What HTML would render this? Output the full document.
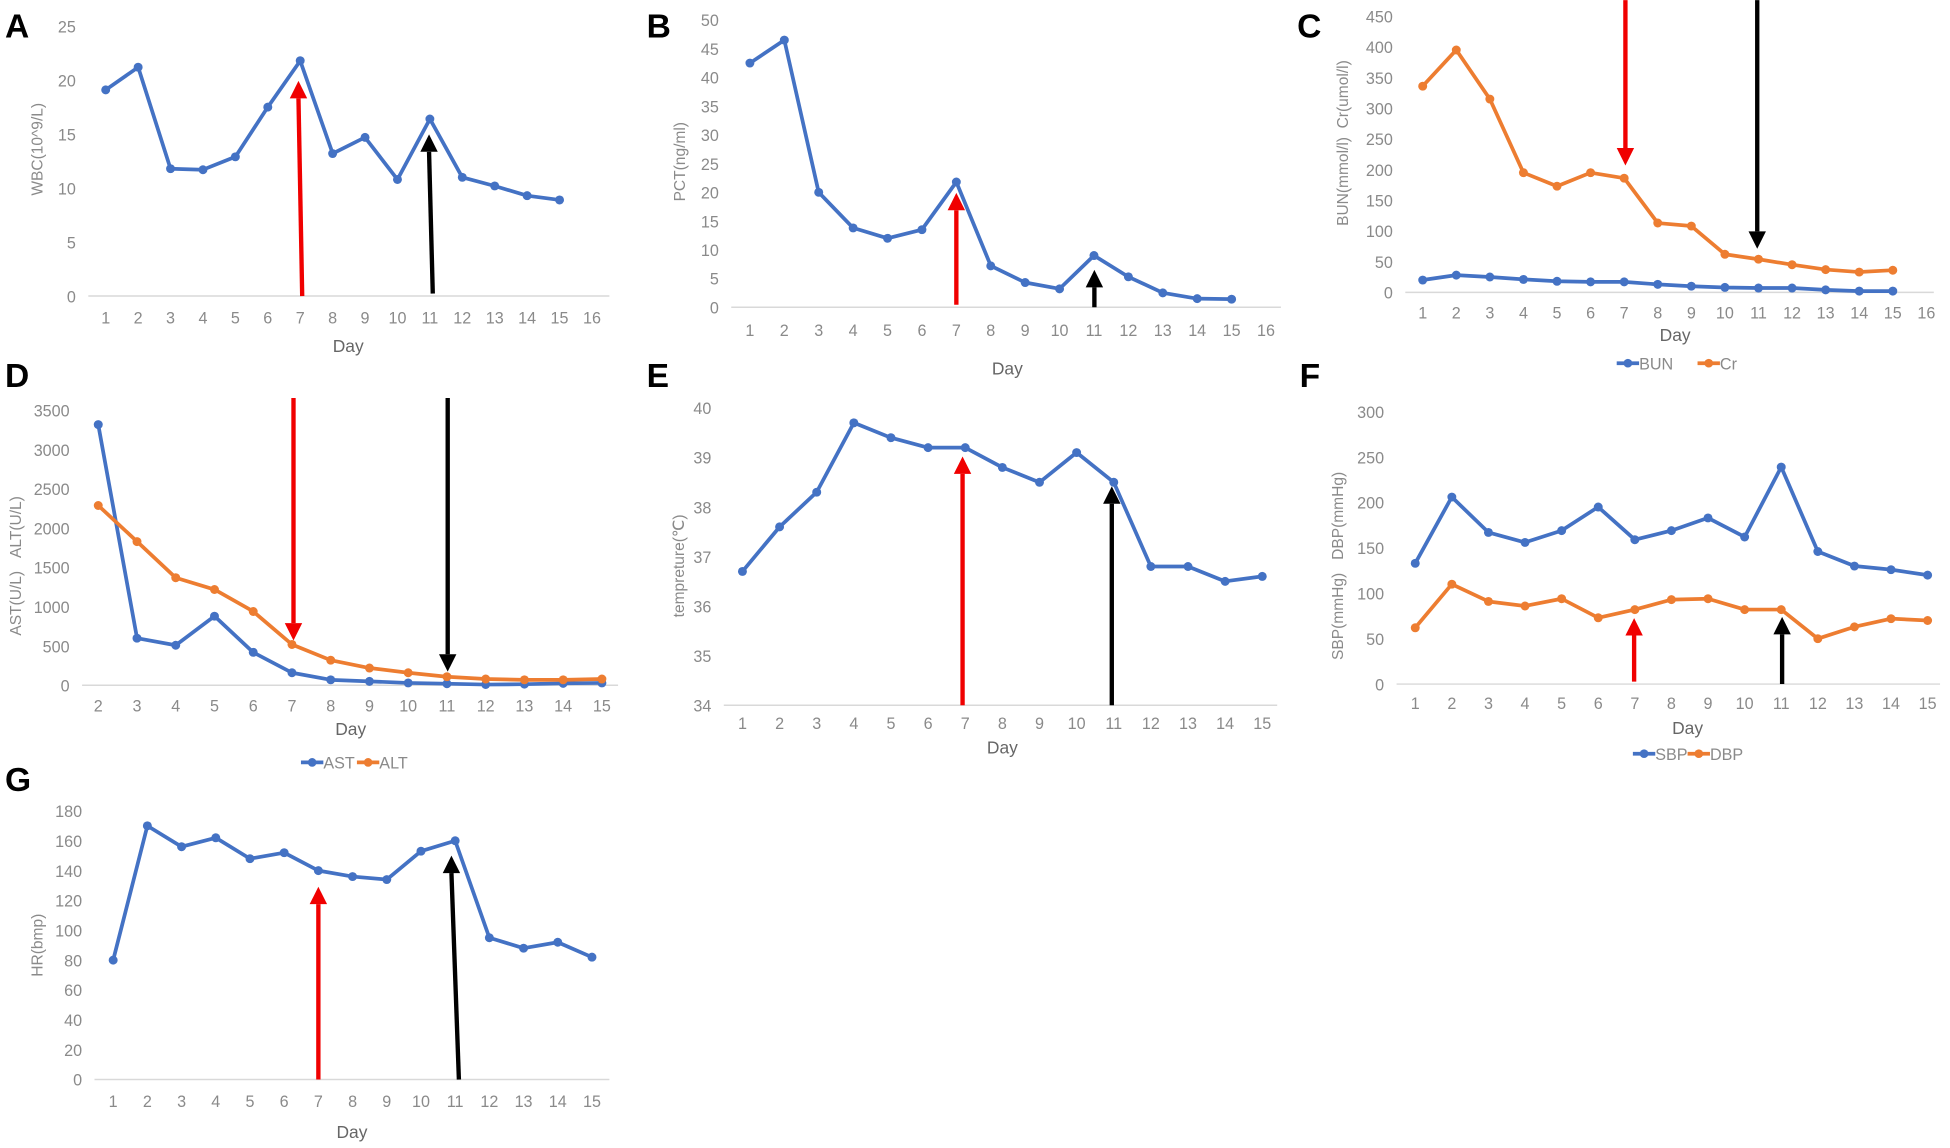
<!DOCTYPE html>
<html><head><meta charset="utf-8"><style>
html,body{margin:0;padding:0;background:#fff;}
svg{display:block;font-family:"Liberation Sans",sans-serif;}
</style></head><body>
<svg id="fig" width="1950" height="1148" viewBox="0 0 1568 923"></svg>
<script>
// Panel A
const daysA = [1,2,3,4,5,6,7,8,9,10,11,12,13,14,15];
const wbc = [19.1,21.2,11.8,11.7,12.9,17.5,21.8,13.2,14.7,10.8,16.4,11.0,10.2,9.3,8.9];
const ticksA = [0,5,10,15,20,25];
// Panel B
const pct = [42.5,46.5,20,13.8,12,13.5,21.8,7.2,4.3,3.2,9,5.3,2.5,1.5,1.4];
const ticksB = [0,5,10,15,20,25,30,35,40,45,50];
// Panel C
const cr = [336,395,315,195,173,195,186,113,108,62,54,45,37,33,36];
const bun = [20,28,25,21,18,17,17,13,10,8,7,7,4,2,2];
const ticksC = [0,50,100,150,200,250,300,350,400,450];
// Panel D
const daysD = [2,3,4,5,6,7,8,9,10,11,12,13,14,15];
const ast = [3320,600,510,880,420,160,70,50,30,20,10,15,25,30];
const alt = [2290,1830,1370,1220,940,520,320,220,160,110,80,70,70,80];
const ticksD = [0,500,1000,1500,2000,2500,3000,3500];
// Panel E
const temp = [36.7,37.6,38.3,39.7,39.4,39.2,39.2,38.8,38.5,39.1,38.5,36.8,36.8,36.5,36.6];
const ticksE = [34,35,36,37,38,39,40];
// Panel F
const sbp = [133,206,167,156,169,195,159,169,183,162,239,146,130,126,120];
const dbp = [62,110,91,86,94,73,82,93,94,82,82,50,63,72,70];
const ticksF = [0,50,100,150,200,250,300];
// Panel G
const hr = [80,170,156,162,148,152,140,136,134,153,160,95,88,92,82];
const ticksG = [0,20,40,60,80,100,120,140,160,180];

const NS="http://www.w3.org/2000/svg";
const svg=document.getElementById('fig');
function mk(tag,attrs,parent){const e=document.createElementNS(NS,tag);for(const k in attrs)e.setAttribute(k,attrs[k]);(parent||svg).appendChild(e);return e;}
const BLUE="#4472c4",ORANGE="#ed7d31";

function panel(cfg){
  const g=mk('g',{});
  
  
  const yS=v=>cfg.y0+(v-cfg.tmin)/(cfg.tmax-cfg.tmin)*(cfg.y1-cfg.y0);
  const xS=d=>cfg.x0+(d-cfg.d0)/(cfg.d1-cfg.d0)*(cfg.x1-cfg.x0);
  const lab=mk('text',{x:cfg.lx,y:cfg.ly,'font-size':27,'font-weight':'bold',fill:'#000'},g);
  lab.textContent=cfg.id;
  
  
  cfg.ticks.forEach(t=>{
    const tx=mk('text',{x:cfg.tickX,y:yS(t)+5,'font-size':13,fill:'#8a8a8a','text-anchor':'end'},g);
    tx.textContent=t;
    
    
  });
  const ax=mk('line',{x1:cfg.tickX+10,x2:cfg.axEnd,y1:cfg.y0,y2:cfg.y0,stroke:'#d9d9d9','stroke-width':1.2},g);
  
  
  cfg.xlabels.forEach(d=>{
    const tx=mk('text',{x:xS(d),y:cfg.xlY,'font-size':13,fill:'#8a8a8a','text-anchor':'middle'},g);
    tx.textContent=d;
    
    
  });
  const dt=mk('text',{x:cfg.dayX,y:cfg.dayY,'font-size':14,fill:'#666','text-anchor':'middle'},g);
  dt.textContent='Day';
  
  
  const yt=mk('text',{x:0,y:0,'font-size':12.5,fill:'#8a8a8a','text-anchor':'middle',transform:`translate(${cfg.ytX},${cfg.ytY}) rotate(-90)`},g);
  yt.textContent=cfg.ytitle;
  
  
  cfg.series.forEach(s=>{
    const pts=s.vals.map((v,i)=>xS(cfg.days[i]).toFixed(1)+','+yS(v).toFixed(1)).join(' ');
    const pl=mk('polyline',{points:pts,fill:'none',stroke:s.color,'stroke-width':3,'stroke-linejoin':'round'},g);
    
    
    s.vals.forEach((v,i)=>{
      const c=mk('circle',{cx:xS(cfg.days[i]),cy:yS(v),r:3.6,fill:s.color},g);
      
      
    });
  });
  cfg.arrows.forEach(a=>{
    const ag=mk('g',{},g);
    
    
    const col=a.color==='red'?'#f00000':'#000';
    const dir=a.ty<a.by?1:-1;
    const headLen=14, hw=7;
    const ty2=a.ty+dir*headLen;
    mk('line',{x1:a.bx,y1:a.by,x2:a.tx,y2:ty2,stroke:col,'stroke-width':3.5},ag);
    mk('polygon',{points:`${a.tx},${a.ty} ${a.tx-hw},${ty2} ${a.tx+hw},${ty2}`,fill:col},ag);
  });
  if(cfg.legend){
    cfg.legend.forEach(l=>{
      const lg=mk('g',{},g);
      
      
      mk('line',{x1:l.x,x2:l.x+18,y1:cfg.legY,y2:cfg.legY,stroke:l.color,'stroke-width':3},lg);
      mk('circle',{cx:l.x+9,cy:cfg.legY,r:3.5,fill:l.color},lg);
      const t=mk('text',{x:l.x+18,y:cfg.legY+5,'font-size':13,fill:'#8a8a8a'},lg);
      t.textContent=l.name;
    });
  }
}
const r15=daysA, lbl16=[1,2,3,4,5,6,7,8,9,10,11,12,13,14,15,16];

panel({id:'A',lx:4,ly:30,tmin:0,tmax:25,y0:238,y1:21,d0:1,d1:16,x0:85,x1:476,ticks:ticksA,tickX:61,axEnd:490,
  xlabels:lbl16,xlY:260,dayX:280,dayY:283,ytitle:'WBC(10^9/L)',ytX:34,ytY:120,days:r15,
  series:[{name:'wbc',vals:wbc,color:BLUE}],
  arrows:[{color:'red',bx:243,by:238,tx:240,ty:65},{color:'black',bx:348,by:236,tx:345,ty:108}]});

panel({id:'B',lx:520,ly:30,tmin:0,tmax:50,y0:247,y1:16,d0:1,d1:16,x0:603,x1:1018,ticks:ticksB,tickX:578,axEnd:1030,
  xlabels:lbl16,xlY:270,dayX:810,dayY:301,ytitle:'PCT(ng/ml)',ytX:551,ytY:130,days:r15,
  series:[{name:'pct',vals:pct,color:BLUE}],
  arrows:[{color:'red',bx:769,by:245,tx:769,ty:155},{color:'black',bx:880,by:247,tx:880,ty:217}]});

panel({id:'C',lx:1043,ly:30,tmin:0,tmax:450,y0:235,y1:13,d0:1,d1:16,x0:1144,x1:1549,ticks:ticksC,tickX:1120,axEnd:1555,
  xlabels:lbl16,xlY:256,dayX:1347,dayY:274,ytitle:'BUN(mmol/l)\u00a0\u00a0Cr(umol/l)',ytX:1084,ytY:115,days:r15,
  series:[{name:'cr',vals:cr,color:ORANGE},{name:'bun',vals:bun,color:BLUE}],
  legend:[{name:'BUN',x:1300,color:BLUE},{name:'Cr',x:1365,color:ORANGE}],legY:292,
  arrows:[{color:'red',bx:1307,by:0,tx:1307,ty:133},{color:'black',bx:1413,by:0,tx:1413,ty:200}]});

panel({id:'D',lx:4,ly:311,tmin:0,tmax:3500,y0:551,y1:330,d0:2,d1:15,x0:79,x1:484,ticks:ticksD,tickX:56,axEnd:497,
  xlabels:daysD,xlY:572,dayX:282,dayY:591,ytitle:'AST(U/L)\u00a0\u00a0\u00a0ALT(U/L)',ytX:17,ytY:455,days:daysD,
  series:[{name:'ast',vals:ast,color:BLUE},{name:'alt',vals:alt,color:ORANGE}],
  legend:[{name:'AST',x:242,color:BLUE},{name:'ALT',x:287,color:ORANGE}],legY:613,
  arrows:[{color:'red',bx:236,by:320,tx:236,ty:515},{color:'black',bx:360,by:320,tx:360,ty:540}]});

panel({id:'E',lx:520,ly:311,tmin:34,tmax:40,y0:567,y1:328,d0:1,d1:15,x0:597,x1:1015,ticks:ticksE,tickX:572,axEnd:1027,
  xlabels:r15,xlY:586,dayX:806,dayY:606,ytitle:'tempreture(℃)',ytX:550,ytY:455,days:r15,
  series:[{name:'temp',vals:temp,color:BLUE}],
  arrows:[{color:'red',bx:774,by:567,tx:774,ty:367},{color:'black',bx:894,by:567,tx:894,ty:391}]});

panel({id:'F',lx:1045,ly:311,tmin:0,tmax:300,y0:550,y1:331,d0:1,d1:15,x0:1138,x1:1550,ticks:ticksF,tickX:1113,axEnd:1560,
  xlabels:r15,xlY:570,dayX:1357,dayY:590,ytitle:'SBP(mmHg)\u00a0\u00a0\u00a0DBP(mmHg)',ytX:1080,ytY:455,days:r15,
  series:[{name:'sbp',vals:sbp,color:BLUE},{name:'dbp',vals:dbp,color:ORANGE}],
  legend:[{name:'SBP',x:1313,color:BLUE},{name:'DBP',x:1357,color:ORANGE}],legY:606,
  arrows:[{color:'red',bx:1314,by:548,tx:1314,ty:497},{color:'black',bx:1433,by:550,tx:1433,ty:496}]});

panel({id:'G',lx:4,ly:636,tmin:0,tmax:180,y0:868,y1:652,d0:1,d1:15,x0:91,x1:476,ticks:ticksG,tickX:66,axEnd:490,
  xlabels:r15,xlY:890,dayX:283,dayY:915,ytitle:'HR(bmp)',ytX:34,ytY:760,days:r15,
  series:[{name:'hr',vals:hr,color:BLUE}],
  arrows:[{color:'red',bx:256,by:868,tx:256,ty:713},{color:'black',bx:369,by:868,tx:363,ty:688}]});
</script>
</body></html>
